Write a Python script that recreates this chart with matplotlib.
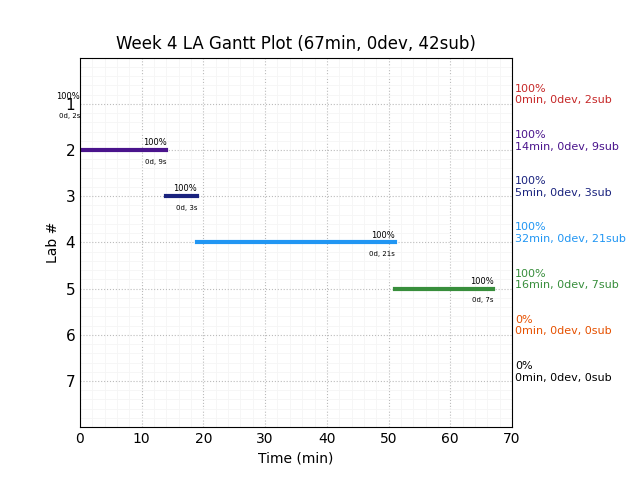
import matplotlib
matplotlib.use('Agg')
import matplotlib.pyplot as plt

labs = [1, 2, 3, 4, 5, 6, 7]
starts = [0, 0, 14, 19, 51, 0, 0]
minutes = [0, 14, 5, 32, 16, 0, 0]
pct = [100, 100, 100, 100, 100, 0, 0]
devs = [0, 0, 0, 0, 0, 0, 0]
subs = [2, 9, 3, 21, 7, 0, 0]
colors = ['#c62828', '#4a148c', '#1a237e', '#2196f3', '#388e3c', '#e65100', '#000000']

fig = plt.figure(figsize = (6.4, 4.8), dpi = 100)
ax = fig.add_subplot(111)
fig.subplots_adjust(right = 0.8)

for lab, s, m, p, d, n, c in zip(labs, starts, minutes, pct, devs, subs, colors):
    if p > 0:
        ax.plot([s, s + m], [lab, lab], color = c, lw = 3)
        ax.text(s + m, lab - 0.06, '%d%%' % p, fontsize = 6, ha = 'right', va = 'bottom')
        ax.text(s + m, lab + 0.19, '%dd, %ds' % (d, n), fontsize = 5, ha = 'right', va = 'top')
    ax.text(70.5, lab - 0.2, '%d%%\n%dmin, %ddev, %dsub' % (p, m, d, n),
            fontsize = 8, color = c, ha = 'left', va = 'center')

ax.set_xlim(0, 70)
ax.set_ylim(8, 0)
ax.set_yticks(labs)
ax.minorticks_on()
ax.tick_params(which = 'both', length = 0)
ax.tick_params(axis = 'y', labelsize = 11)
ax.grid(which = 'major', ls = ':', color = '#bbbbbb', lw = 0.8)
ax.grid(which = 'minor', ls = '-', color = '#f5f5f5', lw = 0.6)
ax.set_axisbelow(True)
ax.set_xlabel('Time (min)')
ax.set_ylabel('Lab #')
ax.set_title('Week 4 LA Gantt Plot (67min, 0dev, 42sub)')

plt.savefig('out.png', dpi = 100)
